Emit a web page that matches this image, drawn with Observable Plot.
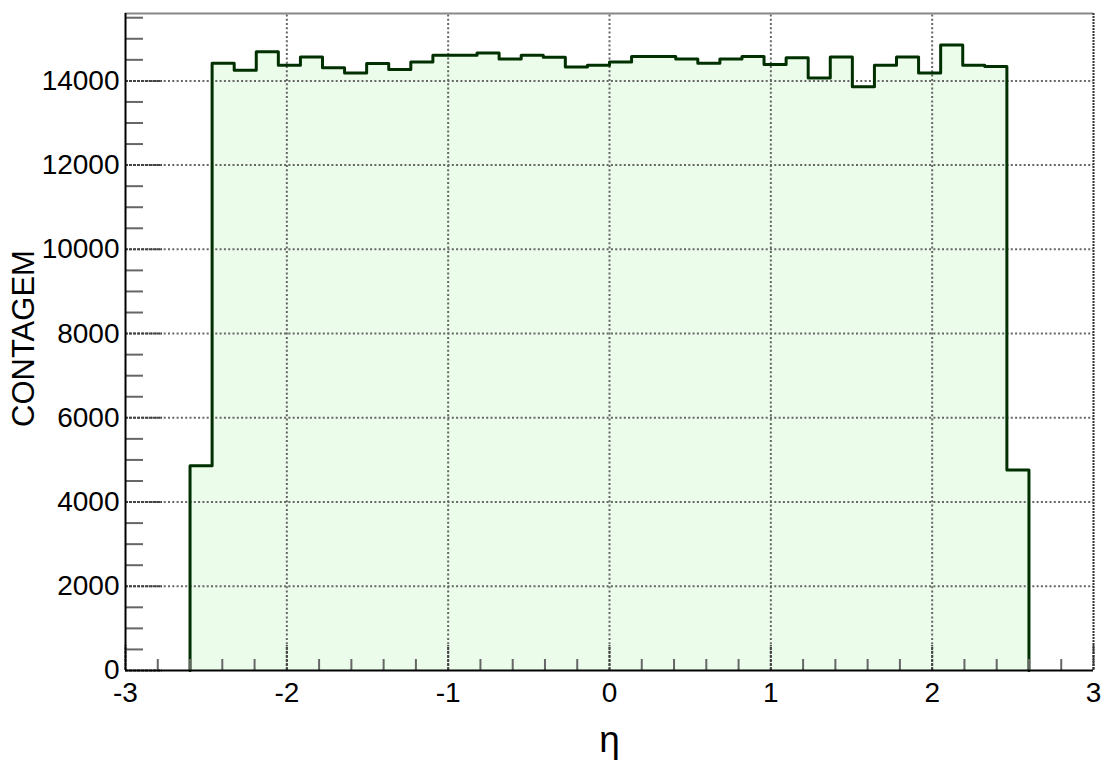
<!DOCTYPE html>
<html>
<head>
<meta charset="utf-8">
<script src="https://cdn.jsdelivr.net/npm/d3@7"></script>
<script src="https://cdn.jsdelivr.net/npm/@observablehq/plot@0.6"></script>
<style>
  html, body { margin: 0; padding: 0; background: white; }
  #chart svg { display: block; }
</style>
</head>
<body>
<div id="chart"></div>
<script>
// Histogram: eta distribution, 38 bins from -2.6 to 2.6
const binLow = -2.6;
const binHigh = 2.6;
const counts = [4860, 14420, 14250, 14690, 14370, 14570, 14310, 14190, 14410, 14270,
                14450, 14610, 14610, 14660, 14520, 14610, 14560, 14330, 14370, 14450,
                14580, 14580, 14520, 14420, 14520, 14580, 14390, 14550, 14070, 14570,
                13860, 14370, 14570, 14190, 14850, 14370, 14340, 4760];

const xMajor = [-3, -2, -1, 0, 1, 2, 3];
const xMinor = [-2.8, -2.6, -2.4, -2.2, -1.8, -1.6, -1.4, -1.2, -0.8, -0.6, -0.4, -0.2,
                0.2, 0.4, 0.6, 0.8, 1.2, 1.4, 1.6, 1.8, 2.2, 2.4, 2.6, 2.8];
const yMajor = [0, 2000, 4000, 6000, 8000, 10000, 12000, 14000];
const yMinor = [500, 1000, 1500, 2500, 3000, 3500, 4500, 5000, 5500, 6500, 7000, 7500,
                8500, 9000, 9500, 10500, 11000, 11500, 12500, 13000, 13500, 14500, 15000, 15500];
const xLabel = "η";
const yLabel = "CONTAGEM";

const W = 1103, H = 761;
const mL = 125, mR = 10, mT = 13, mB = 91;
const xDom = [-3, 3], yDom = [0, 15600];
const pxPerX = (W - mL - mR) / (xDom[1] - xDom[0]);
const pxPerY = (H - mT - mB) / (yDom[1] - yDom[0]);

const binW = (binHigh - binLow) / counts.length;
const pts = [{x: binLow, y: 0}]
  .concat(counts.map((c, i) => ({x: binLow + i * binW, y: c})))
  .concat([{x: binHigh, y: 0}]);

const gridStyle = {stroke: "#666", strokeWidth: 2, strokeDasharray: "2,2.3"};

// title positions in data space (from pixel offsets)
const yTitleX = xDom[0] - 101 / pxPerX;
const yTitleY = yDom[1] - (338 - mT) / pxPerY;
const xTitleX = 0;
const xTitleY = yDom[0] - (740 - (H - mB)) / pxPerY;

const chart = Plot.plot({
  width: W, height: H,
  marginLeft: mL, marginRight: mR, marginTop: mT, marginBottom: mB,
  x: {domain: xDom},
  y: {domain: yDom},
  style: {fontFamily: "'Liberation Sans', Arial, sans-serif", background: "white", color: "black"},
  marks: [
    Plot.areaY(pts, {x: "x", y: "y", curve: "step-after", fill: "#ebfceb"}),
    Plot.ruleY(yMajor.slice(1), {y: d => d, x1: () => xDom[0], x2: () => xDom[1], ...gridStyle}),
    Plot.ruleX(xMajor.slice(1, -1), {x: d => d, y1: () => yDom[0], y2: () => yDom[1], ...gridStyle}),
    Plot.line(pts, {x: "x", y: "y", curve: "step-after", stroke: "#003000", strokeWidth: 3}),
    // y ticks (inward)
    Plot.ruleY(yMinor, {y: d => d, x1: () => xDom[0], x2: () => xDom[0] + 18 / pxPerX, stroke: "#666", strokeWidth: 2}),
    Plot.ruleY(yMajor, {y: d => d, x1: () => xDom[0], x2: () => xDom[0] + 37 / pxPerX, stroke: "#444", strokeWidth: 2, strokeDasharray: "3,1"}),
    // x ticks (inward)
    Plot.ruleX(xMinor, {x: d => d, y1: () => 0, y2: () => 11 / pxPerY, stroke: "#666", strokeWidth: 2}),
    Plot.ruleX(xMajor, {x: d => d, y1: () => 0, y2: () => 25 / pxPerY, stroke: "#444", strokeWidth: 2, strokeDasharray: "3,1"}),
    // frame
    Plot.ruleY([yDom[1]], {stroke: "#888", strokeWidth: 2}),
    Plot.ruleX([xDom[1]], {stroke: "#333", strokeWidth: 2, strokeDasharray: "2,1"}),
    Plot.ruleX([xDom[0]], {stroke: "black", strokeWidth: 2}),
    Plot.ruleY([yDom[0]], {stroke: "black", strokeWidth: 2}),
    // tick labels
    Plot.axisY(yMajor, {tickSize: 0, tickPadding: 6, fontSize: 28, tickFormat: d => String(d), label: null}),
    Plot.axisX(xMajor, {tickSize: 0, tickPadding: 12, fontSize: 28, tickFormat: d => String(d), label: null}),
    // axis titles
    Plot.text([yLabel], {x: () => yTitleX, y: () => yTitleY, text: d => d, rotate: -90, fontSize: 31}),
    Plot.text([xLabel], {x: () => xTitleX, y: () => xTitleY, text: d => d, fontSize: 37})
  ]
});
document.getElementById("chart").appendChild(chart);
</script>
</body>
</html>
